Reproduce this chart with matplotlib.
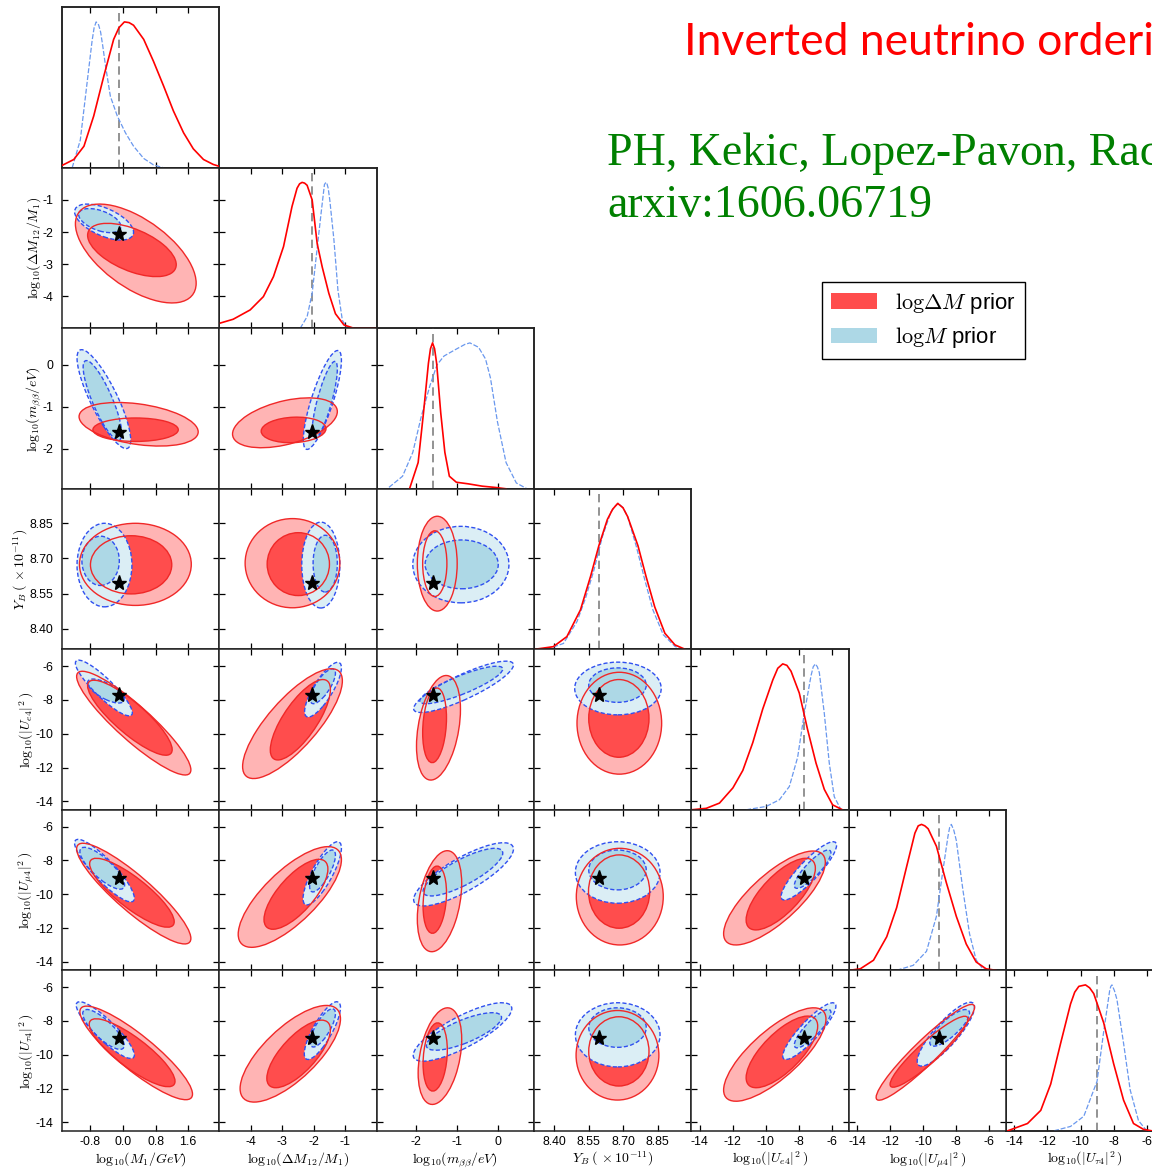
import numpy as np
import matplotlib
matplotlib.use("Agg")
import matplotlib.pyplot as plt
from matplotlib.patches import Circle, Patch
from matplotlib.transforms import Affine2D
from matplotlib.ticker import FixedLocator, FormatStrFormatter

plt.rcParams["font.family"] = ["Liberation Sans", "DejaVu Sans"]
plt.rcParams["mathtext.fontset"] = "cm"

# ---------------------------------------------------------------- parameters
LABELS = [
    r"$\mathrm{log}_{10}(M_1/GeV)$",
    r"$\mathrm{log}_{10}(\Delta M_{12}/M_1)$",
    r"$\mathrm{log}_{10}(m_{\beta\beta}/eV)$",
    r"$Y_B\;(\,\times 10^{-11})$",
    r"$\mathrm{log}_{10}(|U_{e4}|^2\,)$",
    r"$\mathrm{log}_{10}(|U_{\mu4}|^2\,)$",
    r"$\mathrm{log}_{10}(|U_{\tau4}|^2\,)$",
]
LIMITS = [(-1.5, 2.37), (-5.0, 0.0), (-2.96, 0.87), (8.313, 8.997),
          (-14.5, -5.0), (-14.5, -5.0), (-14.5, -5.0)]
TICKS = [[-0.8, 0.0, 0.8, 1.6], [-4, -3, -2, -1], [-2, -1, 0],
         [8.40, 8.55, 8.70, 8.85], [-14, -12, -10, -8, -6],
         [-14, -12, -10, -8, -6], [-14, -12, -10, -8, -6]]
TICK_FMT = ["%.1f", "%d", "%d", "%.2f", "%d", "%d", "%d"]
TRUE_POINT = [-0.1, -2.05, -1.6, 8.595, -7.7, -9.05, -9.0]

# ------------------------------------------------ 1D marginals (peak = 1)
M1_X_RED = [-1.50, -1.21, -0.96, -0.72, -0.47, -0.23, -0.10, 0.035, 0.15, 0.26,
            0.51, 0.75, 1.00, 1.24, 1.49, 1.73, 1.98, 2.22, 2.37]
M1_P_RED = [0.016, 0.057, 0.148, 0.355, 0.63, 0.88, 0.96, 1.0, 0.995, 0.977,
            0.88, 0.73, 0.56, 0.39, 0.24, 0.13, 0.057, 0.023, 0.01]
M1_X_BLUE = [-1.25, -1.05, -0.88, -0.76, -0.71, -0.66, -0.60, -0.55, -0.50,
             -0.43, -0.31, -0.14, 0.06, 0.26, 0.51, 0.75, 1.0]
M1_P_BLUE = [0.0, 0.19, 0.59, 0.87, 0.96, 1.0, 0.98, 0.93, 0.84, 0.70, 0.49,
             0.355, 0.24, 0.148, 0.064, 0.02, 0.0]

DM_X_RED = [-5.0, -4.56, -4.02, -3.60, -3.28, -2.96, -2.69, -2.53, -2.45, -2.37,
            -2.29, -2.21, -2.05, -1.89, -1.73, -1.52, -1.31, -1.04, -0.72, 0.0]
DM_P_RED = [0.034, 0.062, 0.126, 0.217, 0.354, 0.56, 0.835, 0.96, 0.99, 1.0,
            0.995, 0.98, 0.88, 0.58, 0.42, 0.24, 0.10, 0.023, 0.0, 0.0]
DM_X_BLUE = [-2.43, -2.21, -2.05, -1.89, -1.76, -1.66, -1.63, -1.59, -1.54,
             -1.49, -1.36, -1.23, -1.09, -0.93]
DM_P_BLUE = [0.0, 0.08, 0.24, 0.55, 0.80, 0.985, 0.995, 1.0, 0.96, 0.88, 0.61,
             0.26, 0.055, 0.0]

MBB_X_RED = [-2.16, -1.95, -1.82, -1.70, -1.65, -1.60, -1.55, -1.50, -1.40,
             -1.30, -1.19, -1.02, -0.73, -0.39, -0.06, 0.19]
MBB_P_RED = [0.0, 0.18, 0.52, 0.86, 0.96, 1.0, 0.96, 0.86, 0.52, 0.25, 0.086,
             0.045, 0.034, 0.018, 0.009, 0.0]
MBB_X_BLUE = [-2.66, -2.33, -2.08, -1.87, -1.66, -1.49, -1.32, -1.07, -0.81,
              -0.69, -0.48, -0.31, -0.19, -0.02, 0.19, 0.44, 0.70]
MBB_P_BLUE = [0.01, 0.086, 0.25, 0.50, 0.71, 0.85, 0.91, 0.95, 0.99, 1.0, 0.97,
              0.89, 0.76, 0.46, 0.18, 0.04, 0.0]

YB_X_RED = [8.316, 8.397, 8.456, 8.515, 8.559, 8.595, 8.632, 8.655, 8.677, 8.70,
            8.72, 8.765, 8.80, 8.838, 8.882, 8.926, 8.97]
YB_P_RED = [0.0, 0.018, 0.087, 0.27, 0.50, 0.71, 0.89, 0.96, 1.0, 0.97, 0.91,
            0.71, 0.50, 0.29, 0.11, 0.03, 0.0]
YB_X_BLUE = [8.368, 8.441, 8.50, 8.537, 8.573, 8.61, 8.647, 8.665, 8.68, 8.70,
             8.72, 8.757, 8.794, 8.83, 8.875, 8.926, 8.956]
YB_P_BLUE = [0.0, 0.04, 0.19, 0.35, 0.54, 0.77, 0.94, 0.98, 1.0, 0.97, 0.91,
             0.71, 0.48, 0.27, 0.10, 0.02, 0.0]

UE_X_RED = [-14.5, -13.6, -12.8, -11.99, -11.39, -10.79, -10.19, -9.58, -9.28,
            -8.98, -8.73, -8.48, -7.98, -7.48, -6.97, -6.47, -5.97, -5.37]
UE_P_RED = [0.0, 0.01, 0.046, 0.15, 0.27, 0.46, 0.69, 0.89, 0.97, 1.0, 0.99,
            0.95, 0.80, 0.55, 0.32, 0.14, 0.034, 0.0]
UE_X_BLUE = [-11.19, -9.98, -9.18, -8.58, -8.08, -7.68, -7.27, -7.14, -7.01,
             -6.89, -6.77, -6.47, -6.17, -5.87, -5.46]
UE_P_BLUE = [0.0, 0.023, 0.069, 0.16, 0.36, 0.66, 0.92, 0.98, 1.0, 0.98, 0.94,
             0.66, 0.32, 0.09, 0.0]

UMU_X_RED = [-14.46, -13.8, -13.0, -12.2, -11.6, -11.0, -10.5, -10.3, -10.1,
             -9.9, -9.7, -9.2, -8.6, -8.0, -7.4, -6.8, -6.2, -5.6]
UMU_P_RED = [0.0, 0.01, 0.069, 0.23, 0.43, 0.71, 0.94, 0.99, 1.0, 0.99, 0.97,
             0.85, 0.60, 0.37, 0.18, 0.057, 0.01, 0.0]
UMU_X_BLUE = [-11.6, -10.6, -9.8, -9.2, -8.8, -8.5, -8.4, -8.3, -8.15, -8.0,
              -7.6, -7.2, -6.8, -6.4, -6.0]
UMU_P_BLUE = [0.0, 0.034, 0.13, 0.37, 0.69, 0.92, 0.98, 1.0, 0.96, 0.89, 0.55,
              0.25, 0.07, 0.01, 0.0]

UTAU_X_RED = [-14.4, -13.2, -12.4, -11.8, -11.2, -10.6, -10.35, -10.1, -9.7,
              -9.45, -9.2, -8.6, -8.0, -7.4, -6.8, -6.2, -5.7]
UTAU_P_RED = [0.0, 0.05, 0.14, 0.32, 0.60, 0.87, 0.95, 0.99, 1.0, 0.98, 0.94,
              0.74, 0.46, 0.21, 0.05, 0.01, 0.0]
UTAU_X_BLUE = [-11.6, -10.6, -9.8, -9.0, -8.6, -8.24, -8.17, -8.1, -7.95, -7.8,
               -7.4, -7.0, -6.5, -6.0]
UTAU_P_BLUE = [0.0, 0.03, 0.1, 0.34, 0.68, 0.96, 0.99, 1.0, 0.96, 0.90, 0.60,
               0.28, 0.07, 0.0]

# ------------------------------------------ 2D credible regions, one row per
# panel (row var i > col var j, row-major).  Each entry: centre x, centre y,
# half extent in x, half extent in y, correlation-like tilt.
RED_95 = [
    [0.315, -2.67, 1.485, 1.54, -0.6],
    [0.385, -1.42, 1.465, 0.52, -0.35], [-2.915, -1.385, 1.665, 0.595, 0.45],
    [0.305, 8.675, 1.375, 0.175, 0.0], [-2.675, 8.68, 1.505, 0.19, 0.0],
    [-1.485, 8.678, 0.485, 0.202, 0.0],
    [0.265, -9.37, 1.405, 3.07, -0.9], [-2.675, -9.40, 1.585, 3.25, 0.78],
    [-1.455, -9.645, 0.535, 3.095, 0.35], [8.684, -9.375, 0.184, 3.015, 0.0],
    [0.265, -9.96, 1.405, 2.98, -0.89], [-2.76, -10.16, 1.64, 2.98, 0.74],
    [-1.43, -10.41, 0.54, 2.99, 0.35], [8.686, -10.14, 0.189, 2.86, 0.0],
    [-9.48, -10.22, 3.07, 2.78, 0.76],
    [0.325, -9.89, 1.385, 2.77, -0.88], [-2.745, -9.94, 1.595, 2.86, 0.72],
    [-1.42, -10.08, 0.53, 2.86, 0.35], [8.676, -10.03, 0.18, 2.65, 0.0],
    [-9.46, -9.985, 3.09, 2.765, 0.76], [-9.87, -9.855, 2.97, 2.835, 0.94],
]
RED_68 = [
    [0.22, -2.56, 1.09, 0.83, -0.55],
    [0.31, -1.55, 1.05, 0.28, 0.0], [-2.64, -1.555, 1.03, 0.305, 0.1],
    [0.2, 8.673, 1.0, 0.124, 0.0], [-2.49, 8.676, 0.99, 0.134, 0.0],
    [-1.545, 8.678, 0.295, 0.14, 0.0],
    [0.17, -9.05, 1.04, 2.22, -0.85], [-2.425, -9.17, 0.955, 2.38, 0.75],
    [-1.55, -9.5, 0.29, 2.21, 0.2], [8.682, -9.09, 0.131, 2.30, 0.0],
    [0.22, -9.91, 1.04, 2.04, -0.84], [-2.565, -10.0, 1.015, 2.07, 0.72],
    [-1.545, -10.32, 0.285, 1.99, 0.2], [8.683, -9.84, 0.133, 2.17, 0.0],
    [-9.1, -9.99, 2.09, 2.12, 0.72],
    [0.225, -9.88, 1.055, 2.01, -0.84], [-2.48, -9.95, 1.01, 2.0, 0.72],
    [-1.535, -10.13, 0.295, 2.02, 0.2], [8.682, -9.8, 0.131, 2.05, 0.0],
    [-9.03, -9.83, 2.16, 2.12, 0.72], [-9.65, -9.82, 2.35, 2.1, 0.92],
]
BLUE_95 = [
    [-0.465, -1.69, 0.725, 0.56, -0.57],
    [-0.47, -0.82, 0.66, 1.18, -0.83], [-1.725, -0.84, 0.605, 1.18, 0.8],
    [-0.455, 8.672, 0.675, 0.178, 0.0], [-1.775, 8.672, 0.605, 0.183, 0.0],
    [-0.91, 8.674, 1.17, 0.163, 0.0],
    [-0.47, -7.29, 0.70, 1.65, -0.89], [-1.705, -7.39, 0.585, 1.62, 0.8],
    [-0.845, -7.22, 1.215, 1.52, 0.85], [8.678, -7.32, 0.188, 1.56, 0.0],
    [-0.455, -8.6, 0.735, 1.85, -0.88], [-1.73, -8.76, 0.61, 1.87, 0.8],
    [-0.845, -8.82, 1.215, 1.87, 0.8], [8.677, -8.71, 0.184, 1.82, 0.0],
    [-7.405, -8.615, 1.675, 1.725, 0.88],
    [-0.435, -8.54, 0.715, 1.68, -0.88], [-1.725, -8.57, 0.575, 1.71, 0.8],
    [-0.87, -8.65, 1.2, 1.73, 0.8], [8.677, -8.82, 0.184, 1.9, 0.0],
    [-7.375, -8.6, 1.605, 1.68, 0.88], [-8.63, -8.78, 1.73, 1.89, 0.85],
]
BLUE_68 = [
    [-0.57, -1.645, 0.52, 0.375, -0.5],
    [-0.505, -0.85, 0.475, 0.95, -0.83], [-1.65, -0.84, 0.4, 0.92, 0.8],
    [-0.55, 8.69, 0.46, 0.105, 0.0], [-1.635, 8.678, 0.385, 0.121, 0.0],
    [-0.89, 8.675, 0.89, 0.104, 0.0],
    [-0.42, -7.47, 0.45, 0.71, -0.7], [-1.71, -7.19, 0.4, 1.03, 0.75],
    [-0.9, -7.11, 1.01, 1.11, 0.85], [8.676, -7.12, 0.125, 1.02, 0.0],
    [-0.51, -8.46, 0.55, 1.24, -0.8], [-1.72, -8.62, 0.41, 1.24, 0.75],
    [-0.86, -8.69, 0.97, 1.41, 0.8], [8.676, -8.56, 0.125, 1.18, 0.0],
    [-7.175, -8.515, 1.105, 1.135, 0.85],
    [-0.48, -8.5, 0.51, 1.18, -0.8], [-1.71, -8.41, 0.4, 1.13, 0.75],
    [-0.835, -8.62, 0.915, 1.11, 0.75], [8.676, -8.39, 0.125, 1.17, 0.0],
    [-7.175, -8.455, 1.105, 1.135, 0.85], [-8.4, -8.405, 1.2, 1.085, 0.8],
]

# ------------------------------------------------------------------- styles
RED_DARK = "#ff4d4d"
RED_LIGHT = "#ffb4b4"
RED_EDGE = "#f02828"
BLUE_DARK = "#add8e6"
BLUE_LIGHT = "#dbeef5"
BLUE_EDGE = "#3050f0"
CURVE_BLUE = "#6a98ee"

W, H = 1152, 1170
X0, Y0 = 62.0, 7.3
CW, RH = 157.33, 160.5

fig = plt.figure(figsize=(W / 100, H / 100), dpi=100)


def panel_axes(i, j):
    left = (X0 + j * CW) / W
    bottom = 1 - (Y0 + (i + 1) * RH) / H
    return fig.add_axes([left, bottom, CW / W, RH / H])


def region(ax, p, z, **kw):
    cx, cy, sx, sy, rho = p
    tr = Affine2D.from_values(sx, sy * rho, 0.0, sy * np.sqrt(1 - rho ** 2), cx, cy)
    ax.add_patch(Circle((0, 0), 1.0, transform=tr + ax.transData, zorder=z, **kw))


def style_axis(ax, i, j, diag=False):
    ax.set_xlim(LIMITS[j])
    ax.xaxis.set_major_locator(FixedLocator(TICKS[j]))
    ax.xaxis.set_major_formatter(FormatStrFormatter(TICK_FMT[j]))
    if i > 0:
        ax.set_ylim(LIMITS[i])
        ax.yaxis.set_major_locator(FixedLocator(TICKS[i]))
        ax.yaxis.set_major_formatter(FormatStrFormatter(TICK_FMT[i]))
    else:
        ax.set_yticks([])
    ax.tick_params(direction="in", length=4.0, width=0.9, top=True,
                   right=not diag, left=(i > 0), labelsize=8.9,
                   labelleft=(j == 0 and i > 0), labelbottom=(i == 6),
                   pad=4)
    ax.tick_params(axis="y", pad=6)
    for s in ax.spines.values():
        s.set_linewidth(1.1)
        s.set_color("#222222")
    if i == 6:
        ax.set_xlabel(LABELS[j], fontsize=10, labelpad=1)
    if j == 0 and i > 0:
        ax.set_ylabel(LABELS[i], fontsize=10, labelpad=0)


curves_red = [(M1_X_RED, M1_P_RED), (DM_X_RED, DM_P_RED), (MBB_X_RED, MBB_P_RED),
              (YB_X_RED, YB_P_RED), (UE_X_RED, UE_P_RED), (UMU_X_RED, UMU_P_RED),
              (UTAU_X_RED, UTAU_P_RED)]
curves_blue = [(M1_X_BLUE, M1_P_BLUE), (DM_X_BLUE, DM_P_BLUE),
               (MBB_X_BLUE, MBB_P_BLUE), (YB_X_BLUE, YB_P_BLUE),
               (UE_X_BLUE, UE_P_BLUE), (UMU_X_BLUE, UMU_P_BLUE),
               (UTAU_X_BLUE, UTAU_P_BLUE)]

# diagonal: 1D marginals
for i in range(7):
    ax = panel_axes(i, i)
    style_axis(ax, i, i, diag=True)
    axd = ax.twinx()
    axd.set_ylim(0, 1.1)
    axd.set_yticks([])
    axd.tick_params(right=False)
    for s in axd.spines.values():
        s.set_linewidth(1.1)
        s.set_color("#222222")
    axd.axvline(TRUE_POINT[i], color="#808080", lw=1.2, ls=(0, (5, 3)), zorder=1)
    bx, bp = curves_blue[i]
    rx, rp = curves_red[i]
    axd.plot(bx, bp, color=CURVE_BLUE, lw=0.9, ls=(0, (4, 1.5)), zorder=2)
    axd.plot(rx, rp, color="red", lw=1.2, zorder=3)

# off-diagonal: 2D credible regions
k = 0
for i in range(1, 7):
    for j in range(i):
        ax = panel_axes(i, j)
        style_axis(ax, i, j)
        region(ax, RED_95[k], 1, facecolor=RED_LIGHT, edgecolor="none")
        region(ax, RED_68[k], 2, facecolor=RED_DARK, edgecolor="none")
        region(ax, BLUE_95[k], 3, facecolor=BLUE_LIGHT, edgecolor="none")
        region(ax, BLUE_68[k], 4, facecolor=BLUE_DARK, edgecolor="none")
        for p in (BLUE_95[k], BLUE_68[k]):
            region(ax, p, 5, facecolor="none", edgecolor=BLUE_EDGE, lw=1.0,
                   ls=(0, (3, 1.6)))
        for p in (RED_95[k], RED_68[k]):
            region(ax, p, 6, facecolor="none", edgecolor=RED_EDGE, lw=1.0)
        ax.plot([TRUE_POINT[j]], [TRUE_POINT[i]], marker="*", color="black",
                ms=11, mec="black", zorder=7)
        k += 1

# annotations
fig.text(684 / W, 1 - 55 / H, "Inverted neutrino ordering", color="red",
         fontsize=32, family="Lato", ha="left", va="baseline")
fig.text(607 / W, 1 - 165 / H, "PH, Kekic, Lopez-Pavon, Racker", color="#008000",
         fontsize=33, family="Liberation Serif", ha="left", va="baseline")
fig.text(607 / W, 1 - 216.7 / H, "arxiv:1606.06719", color="#008000",
         fontsize=33, family="Liberation Serif", ha="left", va="baseline")

handles = [Patch(facecolor=RED_DARK, edgecolor="none"),
           Patch(facecolor=BLUE_DARK, edgecolor="none")]
leg = fig.legend(handles, [r"$\mathrm{log}\Delta M$ prior", r"$\mathrm{log}M$ prior"],
                 loc="upper left", bbox_to_anchor=(821.8 / W, 1 - 281.7 / H),
                 bbox_transform=fig.transFigure, borderaxespad=0, fontsize=16,
                 frameon=True, fancybox=False, edgecolor="black", framealpha=1,
                 handlelength=2.1, handleheight=0.7, handletextpad=0.8,
                 labelspacing=0.44, borderpad=0.4)
leg.get_frame().set_linewidth(1.0)

fig.savefig("out.png", dpi=100)
